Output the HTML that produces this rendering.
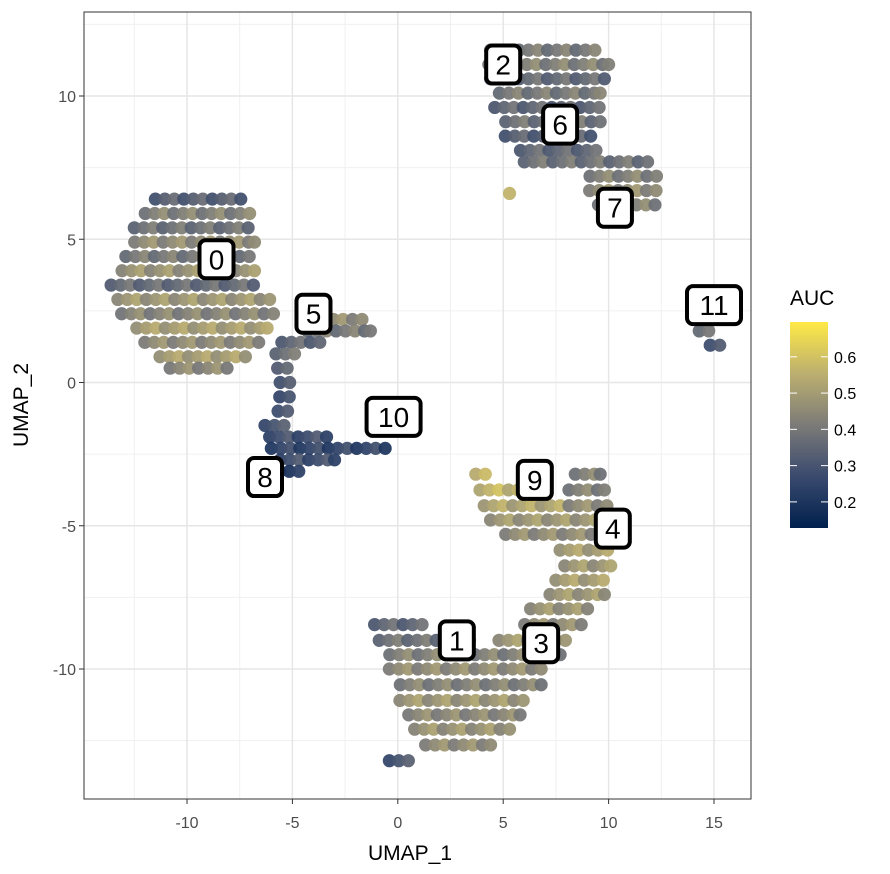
<!DOCTYPE html>
<html><head><meta charset="utf-8"><style>
body{margin:0;background:#fff;}
svg{display:block;font-family:"Liberation Sans",Arial,sans-serif;}
</style></head><body>
<svg id="chart" width="890" height="874">
<defs>
<linearGradient id="cg" x1="0" y1="1" x2="0" y2="0">
<stop offset="0" stop-color="#00204D"/><stop offset="0.25" stop-color="#3A4A6E"/>
<stop offset="0.5" stop-color="#7C7B78"/><stop offset="0.75" stop-color="#BCAF6F"/>
<stop offset="1" stop-color="#FFEA46"/></linearGradient>
</defs>
<rect x="84" y="12" width="667" height="787" fill="#fff"/>
<g id="grid"></g>
<g id="pts"></g>
<g id="labels"></g>
<rect x="84" y="12" width="667" height="787" fill="none" stroke="#333" stroke-width="1"/>
<g id="axes"></g>
<text x="410" y="860" text-anchor="middle" font-size="21" fill="#000">UMAP_1</text>
<text transform="translate(28,405) rotate(-90)" text-anchor="middle" font-size="21" fill="#000">UMAP_2</text>
<text x="790" y="305" font-size="21" fill="#000">AUC</text>
<rect x="790" y="322" width="38" height="206" fill="url(#cg)"/>
<g id="legend"></g>
</svg>
<script>
const xTicks=[-10,-5,0,5,10,15];
const yTicks=[-10,-5,0,5,10];
const legendTicks=[0.2,0.3,0.4,0.5,0.6];
// row segments: [y, xStart, xEnd, auc]
const cluster0=[[6.4,-11.5,-7.3,0.33],[5.9,-12.2,-7.0,0.42],[5.4,-12.5,-6.9,0.38],[4.9,-12.7,-6.8,0.45],[4.4,-12.9,-7.0,0.4],[3.9,-13.3,-6.8,0.47],[3.4,-13.6,-6.6,0.36],[2.9,-13.5,-6.0,0.48],[2.4,-13.1,-5.8,0.43],[1.9,-12.6,-6.2,0.5],[1.4,-12.0,-6.6,0.45],[0.9,-11.5,-7.2,0.5],[0.5,-10.8,-8.0,0.44]];
const cluster5=[[2.2,-3.5,-1.6,0.45],[1.8,-4.5,-1.3,0.4],[1.4,-5.5,-3.5,0.35],[1.0,-6.0,-4.9,0.38],[0.5,-5.7,-4.9,0.36],[0.0,-5.8,-5.1,0.33],[-0.5,-5.6,-5.0,0.3],[-1.0,-5.9,-5.1,0.32]];
const cluster8_10=[[-1.5,-6.3,-5.0,0.3],[-1.9,-6.3,-3.2,0.28],[-2.3,-6.0,-0.3,0.25],[-2.7,-5.8,-3.0,0.28],[-3.1,-5.6,-4.6,0.2]];
const cluster2_6_7=[[11.6,4.4,9.4,0.4],[11.1,4.1,10.0,0.42],[10.6,4.4,9.8,0.36],[10.1,4.6,9.6,0.4],[9.6,4.6,9.8,0.35],[9.1,4.9,9.6,0.38],[8.6,5.1,9.5,0.33],[8.1,5.6,9.4,0.35],[7.7,6.0,12.1,0.38],[7.2,8.9,12.4,0.42],[6.7,9.1,12.5,0.45],[6.2,9.3,12.2,0.42],[6.6,5.3,5.6,0.6]];
const cluster11=[[1.8,14.3,15.1,0.4],[1.3,14.6,15.3,0.32]];
const cluster4_9=[[-3.2,3.7,4.4,0.58],[-3.2,8.2,9.6,0.42],[-3.75,3.9,6.8,0.56],[-3.75,7.9,9.8,0.42],[-4.3,4.1,7.7,0.52],[-4.3,7.9,10.1,0.45],[-4.8,4.4,9.6,0.48],[-5.3,4.9,10.1,0.45],[-5.85,7.7,10.1,0.5],[-6.4,7.7,10.1,0.48],[-6.9,7.5,9.8,0.5],[-7.4,7.0,9.8,0.48],[-7.9,6.3,9.1,0.47],[-8.45,5.8,8.7,0.45]];
const cluster1_3=[[-8.45,-1.1,1.5,0.35],[-9.0,-1.1,3.4,0.38],[-9.0,4.8,8.2,0.48],[-9.5,-0.6,7.7,0.42],[-10.0,-0.4,7.0,0.45],[-10.55,-0.1,6.8,0.42],[-11.1,0.1,6.3,0.48],[-11.6,0.3,5.8,0.44],[-12.1,0.8,5.3,0.47],[-12.65,1.1,4.4,0.45],[-13.2,-0.4,0.6,0.3]];
const clusterLabels=["0","5","10","8","2","6","7","11","9","4","1","3"];
const labelX=[-8.6,-4.0,-0.2,-6.3,5.0,7.7,10.3,15.0,6.5,10.2,2.8,6.8];
const labelY=[4.3,2.4,-1.2,-3.3,11.1,9.0,6.1,2.7,-3.4,-5.1,-9.0,-9.1];

const NS="http://www.w3.org/2000/svg";
const X=v=>397.8+v*21.08, Y=v=>382.5-v*28.65;
const L=v=>528-(v-0.128)/(0.696-0.128)*206;
function mk(t,a,p){const e=document.createElementNS(NS,t);for(const k in a)e.setAttribute(k,a[k]);p.appendChild(e);return e;}
const stops=[[0.128,[0,32,77]],[0.27,[58,74,110]],[0.41,[124,123,120]],[0.55,[188,175,111]],[0.696,[255,234,70]]];
function col(v){v=Math.max(0.128,Math.min(0.696,v));for(let i=0;i<stops.length-1;i++){const[a,c1]=stops[i],[b,c2]=stops[i+1];if(v<=b){const t=(v-a)/(b-a);return`rgb(${c1.map((c,j)=>Math.round(c+(c2[j]-c)*t)).join(",")})`;}}return"rgb(255,234,70)";}
const grid=document.getElementById('grid');
for(let v=-12.5;v<=12.5;v+=5){const l=mk('line',{x1:X(v),x2:X(v),y1:12,y2:799,stroke:'#f0f0f0','stroke-width':1},grid);}
for(let v=-12.5;v<=12.5;v+=5){const l=mk('line',{y1:Y(v),y2:Y(v),x1:84,x2:751,stroke:'#f0f0f0','stroke-width':1},grid);}
const axes=document.getElementById('axes');
xTicks.forEach(v=>{const l=mk('line',{x1:X(v),x2:X(v),y1:12,y2:799,stroke:'#e6e6e6','stroke-width':1.5},grid);
mk('line',{x1:X(v),x2:X(v),y1:799,y2:804,stroke:'#333'},axes);
const t=mk('text',{x:X(v),y:828,'text-anchor':'middle','font-size':16,fill:'#4d4d4d'},axes);t.textContent=v;});
yTicks.forEach(v=>{const l=mk('line',{y1:Y(v),y2:Y(v),x1:84,x2:751,stroke:'#e6e6e6','stroke-width':1.5},grid);
mk('line',{y1:Y(v),y2:Y(v),x1:79,x2:84,stroke:'#333'},axes);
const t=mk('text',{x:76,y:Y(v)+6,'text-anchor':'end','font-size':16,fill:'#4d4d4d'},axes);t.textContent=v;});
const pts=document.getElementById('pts');
[cluster0,cluster5,cluster8_10,cluster2_6_7,cluster11,cluster4_9,cluster1_3].forEach((cl,ci)=>{cl.forEach((s,ri)=>{const[y,a,b,auc]=s;
for(let x=a,k=0;x<=b+0.01;x+=0.45,k++){const off=(ri%2)*0.22;const v=auc+((k%3)-1)*0.04;
const c=mk('circle',{cx:X(Math.min(x+off,b)),cy:Y(y),r:6.6,fill:col(v),'fill-opacity':0.95},pts);

}});});
const lab=document.getElementById('labels');
clusterLabels.forEach((s,i)=>{const w=s.length>1?54:34;const cx=X(labelX[i]),cy=Y(labelY[i]);
const g=mk('g',{},lab);
mk('rect',{x:cx-w/2,y:cy-19,width:w,height:38,rx:6,fill:'#fff',stroke:'#000','stroke-width':4},g);
const t=mk('text',{x:cx,y:cy+10,'text-anchor':'middle','font-size':28,fill:'#000'},g);t.textContent=s;});
const lg=document.getElementById('legend');
legendTicks.forEach(v=>{mk('line',{x1:790,x2:797,y1:L(v),y2:L(v),stroke:'#fff'},lg);mk('line',{x1:821,x2:828,y1:L(v),y2:L(v),stroke:'#fff'},lg);
const t=mk('text',{x:834,y:L(v)+6,'font-size':16,fill:'#000'},lg);t.textContent=v.toFixed(1);});
</script>
</body></html>
